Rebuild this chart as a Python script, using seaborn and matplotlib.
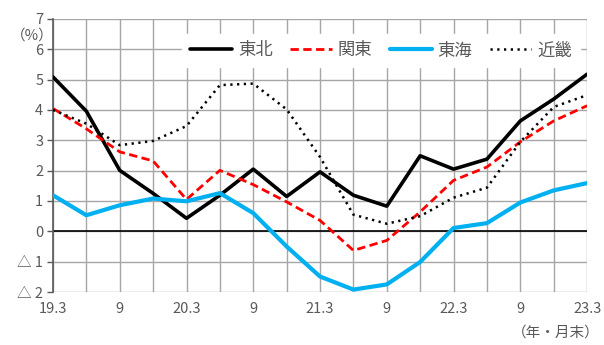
import matplotlib
matplotlib.use("Agg")
import matplotlib.pyplot as plt
import seaborn as sns
import pandas as pd

sns.set_theme(style="white")
plt.rcParams["font.family"] = ["Noto Sans CJK JP", "DejaVu Sans"]

quarters = ["19.3", "19.6", "19.9", "19.12", "20.3", "20.6", "20.9", "20.12",
            "21.3", "21.6", "21.9", "21.12", "22.3", "22.6", "22.9", "22.12", "23.3"]
tohoku = [5.09, 3.96, 2.01, 1.25, 0.43, 1.19, 2.05, 1.15, 1.96, 1.19, 0.83,
          2.49, 2.05, 2.38, 3.64, 4.36, 5.18]
kanto = [4.05, 3.38, 2.62, 2.32, 1.05, 2.01, 1.54, 0.97, 0.36, -0.63, -0.30,
         0.64, 1.68, 2.12, 2.95, 3.64, 4.14]
tokai = [1.19, 0.53, 0.86, 1.08, 0.99, 1.26, 0.60, -0.50, -1.49, -1.92, -1.75,
         -1.01, 0.11, 0.27, 0.95, 1.35, 1.59]
kinki = [4.00, 3.55, 2.84, 2.98, 3.47, 4.82, 4.87, 4.02, 2.45, 0.55, 0.25,
         0.50, 1.11, 1.44, 2.95, 4.10, 4.49]
x_labels = ["19.3", "", "9", "", "20.3", "", "9", "", "21.3", "", "9", "",
            "22.3", "", "9", "", "23.3"]
y_ticks = [7, 6, 5, 4, 3, 2, 1, 0, -1, -2]
y_labels = ["7", "6", "5", "4", "3", "2", "1", "0", "△ 1", "△ 2"]

series = {"東北": tohoku, "関東": kanto, "東海": tokai, "近畿": kinki}
df = pd.DataFrame(
    [(i, name, v) for name, vals in series.items() for i, v in enumerate(vals)],
    columns=["pos", "region", "value"],
)

styles = {
    "東北": dict(color="black", lw=2.6, ls="-"),
    "関東": dict(color="#ff0000", lw=2.0, ls=(0, (3, 1.6))),
    "東海": dict(color="#00b0f0", lw=3.0, ls="-"),
    "近畿": dict(color="black", lw=1.8, ls=(0, (0.9, 1.8))),
}

fig = plt.figure(figsize=(6.04, 3.45), dpi=100)
ax = fig.add_axes([0.0877, 0.1536, 0.8843, 0.7914])

grey = "#595959"
grid_c = "#a6a6a6"

for i in range(len(quarters)):
    ax.axvline(i, color=grid_c, lw=1.0, zorder=0)
for t in y_ticks:
    ax.axhline(t, color=grid_c, lw=1.0, zorder=0)
ax.axhline(0, color="black", lw=1.2, zorder=1)

for name in series:
    st = styles[name]
    sns.lineplot(data=df[df.region == name], x="pos", y="value", ax=ax,
                 color=st["color"], linewidth=st["lw"], linestyle=st["ls"],
                 label=name, zorder=3)

ax.set_xlim(0, len(quarters) - 1)
ax.set_ylim(-2, 7)
ax.set_xticks(range(len(quarters)))
ax.set_xticklabels(x_labels, color=grey, fontsize=10.5)
ax.set_yticks(y_ticks)
ax.set_yticklabels(y_labels, color=grey, fontsize=10.5)
ax.tick_params(axis="x", length=0, pad=7)
ax.tick_params(axis="y", length=4, width=1, color=grey, direction="out",
               left=True, pad=3)
ax.set_xlabel("")
ax.set_ylabel("")
for s in ["top", "right", "bottom"]:
    ax.spines[s].set_visible(False)
ax.spines["left"].set_color(grey)
ax.spines["left"].set_linewidth(1.2)

leg = ax.legend(loc="upper left", bbox_to_anchor=(0.226, 0.978), ncol=4,
                frameon=True, fancybox=False, framealpha=1.0,
                handlelength=2.4, handletextpad=0.35, columnspacing=1.0,
                fontsize=12.5, borderpad=0.45)
leg.get_frame().set_edgecolor("white")
leg.get_frame().set_facecolor("white")
leg.set_zorder(5)
for txt in leg.get_texts():
    txt.set_color(grey)

fig.text(0.053, 0.897, "（%）", color=grey, fontsize=10.5, ha="center", va="center")
fig.text(0.92, 0.035, "（年・月末）", color=grey, fontsize=10.5, ha="center", va="center")

fig.savefig("out.png", dpi=100)
